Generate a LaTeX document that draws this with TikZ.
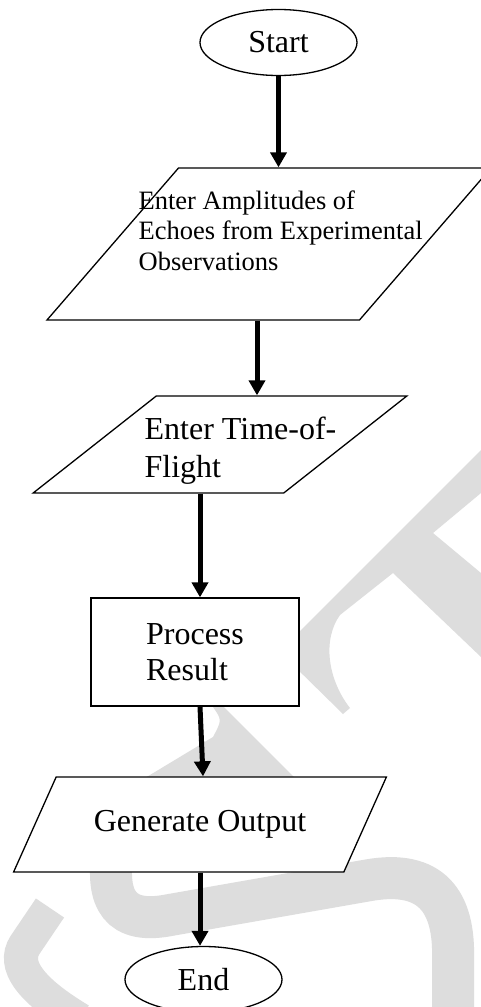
\documentclass[tikz,border=0pt]{standalone}
\usepackage{fontspec}
\setmainfont{Liberation Serif}
\usetikzlibrary{shapes.geometric,arrows.meta,positioning,calc}
\definecolor{wmgray}{RGB}{221,221,221}
\newcommand{\boxfont}{\fontsize{32}{36}\selectfont}
\newcommand{\smallboxfont}{\fontsize{26.5}{30.5}\selectfont}

\begin{document}
\begin{tikzpicture}[x=1pt, y=-1pt,
    every node/.style={draw, line width=1.3pt, fill=white, inner sep=0pt},
    terminal/.style={ellipse, minimum width=157pt, minimum height=66pt, font=\boxfont},
    io/.style={trapezium, trapezium stretches=true, inner sep=2pt},
    process/.style={rectangle, minimum width=208pt, minimum height=108pt, font=\boxfont, align=left},
    txt/.style={draw=none, fill=none, align=left, anchor=north west},
    arr/.style={-{Triangle[width=16pt,length=15pt]}, line width=5pt}]

    % Page
    \useasboundingbox (0,0) rectangle (481,1007);
    \fill[white] (0,0) rectangle (481,1007);

    % Watermark
    \fill[wmgray] (481,450) -- (300,631) -- (213,700) -- (213,707) .. controls (222,720) .. (213,737) -- (140,781) -- (300,783) -- (222,705) -- (222,700) -- (290,662) -- (343,714) -- (350,708) .. controls (328,680) and (322,640) .. (340,615) -- (393,573) -- (481,657) -- (481,573) -- (433,533) -- (481,493) -- cycle;
    \draw[wmgray, line width=42pt] (113,850) .. controls (105,900) and (120,925) .. (170,915) -- (370,880) .. controls (430,870) and (455,900) .. (453,960) -- (453,1020);
    \draw[wmgray, line width=34pt] (50,908) -- (25,945) .. controls (12,965) and (30,990) .. (80,1020);

    % Start
    \node[terminal] (start) at (278.5,42.5) {Start};

    % Inputs
    \node[io, trapezium left angle=54, trapezium right angle=126, minimum width=444pt, minimum height=152pt] (in1) at (269,244) {};
    \node[txt, font=\smallboxfont] (in1txt) at (138,190) {Enter Amplitudes of\\Echoes from Experimental\\Observations};

    \node[io, trapezium left angle=46, trapezium right angle=134, minimum width=374pt, minimum height=97pt] (in2) at (220,444.5) {};
    \node[txt, font=\fontsize{32}{38.4}\selectfont] (in2txt) at (144,416) {Enter Time-of-\\Flight};

    % Process
    \node[process] (proc) at (195,652) {Process\\Result};

    % Output
    \node[io, trapezium left angle=45, trapezium right angle=135, minimum width=374pt, minimum height=95pt, font=\boxfont] (out) at (200,824.5) {Generate Output};

    % End
    \node[terminal] (end) at (203.5,979.5) {End};

    % Arrows
    \draw[arr] (start) -- (start |- in1.north);
    \draw[arr] ([xshift=-12pt]in1.south) -- ([xshift=-12pt]in1.south |- in2.north);
    \draw[arr] ([xshift=-20pt]in2.south) -- ([xshift=-20pt]in2.south |- proc.north);
    \draw[arr] ([xshift=5pt]proc.south) -- ([xshift=3pt]out.north);
    \draw[arr] (out.south) -- (out.south |- end.north);

\end{tikzpicture}
\end{document}
